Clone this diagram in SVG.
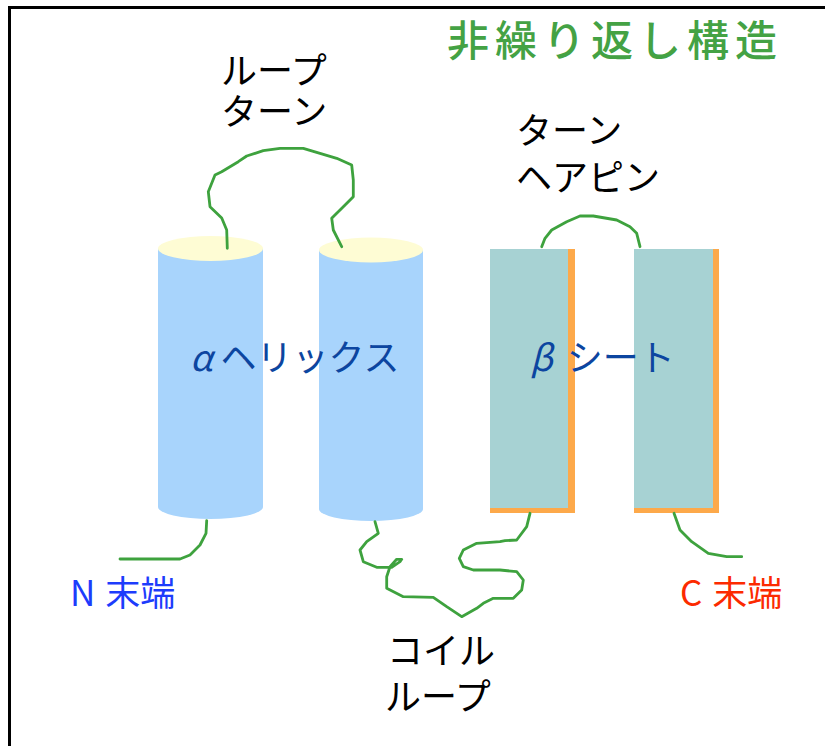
<svg xmlns="http://www.w3.org/2000/svg" width="825" height="746" viewBox="0 0 825 746">
  <style>
    .jp { font-family: "Noto Sans CJK JP", "Noto Sans", sans-serif; }
    .lbl { font-size: 36px; fill: #000; }
    .chain { fill: none; stroke: #3ea23e; stroke-width: 2.8; stroke-linejoin: round; stroke-linecap: round; }
    .helix { fill: #a8d4fc; }
    .cap { fill: #fefcd4; }
    .sheet { fill: #a7d2d3; }
    .edge { fill: #fda94a; }
  </style>
  <rect x="0" y="0" width="825" height="746" fill="#fff"/>
  <!-- frame -->
  <path d="M9.5 746 V7.5 H825" fill="none" stroke="#000" stroke-width="3"/>

  <text class="jp" x="447" y="56" font-size="42" font-weight="500" letter-spacing="6" fill="#44a244">非繰り返し構造</text>

  <!-- helix 1 -->
  <g id="helix1">
    <path class="helix" d="M158 248 V507 A52.5 12 0 0 0 263 507 V248 Z"/>
    <ellipse class="cap" cx="210.5" cy="248.5" rx="52.5" ry="12.5"/>
  </g>
  <!-- helix 2 -->
  <g id="helix2">
    <path class="helix" d="M319 250 V509 A52 12 0 0 0 423 509 V250 Z"/>
    <ellipse class="cap" cx="371" cy="250" rx="52" ry="12.5"/>
  </g>
  <!-- strand 1 -->
  <g id="strand1">
    <rect class="edge" x="490" y="249" width="85" height="264"/>
    <rect class="sheet" x="490" y="249" width="78" height="259"/>
  </g>
  <!-- strand 2 -->
  <g id="strand2">
    <rect class="edge" x="634" y="249" width="85" height="264"/>
    <rect class="sheet" x="634" y="249" width="79" height="259"/>
  </g>

  <g id="connectors">
    <polyline class="chain" points="227.3,248.3 226.7,230 221.7,218 210,206.7 208.3,191.7 215,175 221.7,171.7 238.3,161.7 246.7,156 263.3,150.7 280,148.3 303.3,148.3 336.7,158.3 351.7,165 353.3,180 353.3,196.7 343.3,206.7 331.7,218.3 333.3,230 341.7,246.7"/>
    <polyline class="chain" points="541.7,246.7 545,238.3 551.7,230 566.7,221.7 580,216 593.3,216 616.7,220 630,226.7 636.7,233.3 640,246.7"/>
    <polyline class="chain" points="206.7,520.7 206,533.3 200,545 190,555 180,559 120,559"/>
    <polyline class="chain" points="375,521.7 378.3,533.3 366.7,541.7 360,550 363.3,561.7 376.7,567.3 391.7,567.3 400,561.7 401.7,559.3 396.7,559.3 390,566.7 386.7,576.7 386.7,588.3 403.3,596.7 433.3,597.3 446.7,606.7 461.7,616.7 476.7,608.3 483.3,603.3 493.3,598.3 513.3,598.3 521.7,590 523.3,580 516.7,571.7 500,570 473.3,570 463.3,566.7 459.3,558.3 463.3,550 476.7,543.3 500,541.7 505,540.7 516.7,540 526.7,526.7 530,513.3"/>
    <polyline class="chain" points="674,513.3 680,530 691.7,541.7 708.3,553.3 726.7,556.7 741.7,556.7"/>
  </g>

  <!-- two-line captions -->
  <text class="jp lbl" x="221" y="84">ループ<tspan x="221" y="125">ターン</tspan></text>
  <text class="jp lbl" x="516" y="144">ターン<tspan x="516" y="191">ヘアピン</tspan></text>
  <text class="jp lbl" x="387" y="664">コイル<tspan x="385" y="710">ループ</tspan></text>

  <text class="jp" x="190" y="371" font-size="36" fill="#0c45a0"><tspan font-style="italic">α</tspan><tspan dx="8">ヘリックス</tspan></text>
  <text class="jp" x="530" y="371" font-size="36" fill="#0c45a0"><tspan font-style="italic">β</tspan><tspan dx="14">シート</tspan></text>
  <text class="jp" x="70" y="606" font-size="35" fill="#1d3cfc">N<tspan dx="10">末端</tspan></text>
  <text class="jp" x="680" y="606" font-size="35" fill="#fc2a00">C<tspan dx="10">末端</tspan></text>
</svg>
